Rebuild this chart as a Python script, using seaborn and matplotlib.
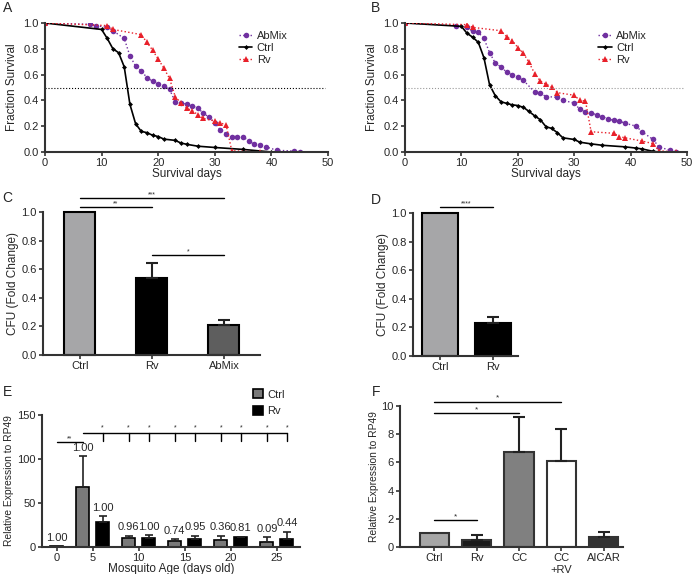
import matplotlib
matplotlib.use("Agg")
import matplotlib.pyplot as plt
import seaborn as sns
import pandas as pd
import numpy as np

# ---- survival data (panel A) ----
a_ctrl_days = [0, 10, 11, 12, 13, 14, 15, 16, 17, 18, 19, 20, 21, 23, 24, 25, 27, 30, 35, 40]
a_ctrl_frac = [1.0, 0.95, 0.88, 0.80, 0.77, 0.66, 0.37, 0.22, 0.16, 0.15, 0.13, 0.12, 0.10,
               0.09, 0.07, 0.06, 0.045, 0.035, 0.02, 0.0]
a_abmix_days = [0, 8, 9, 11, 12, 14, 15, 16, 17, 18, 19, 20, 21, 22, 23, 24, 25, 26, 27, 28,
                29, 30, 31, 32, 33, 34, 35, 36, 37, 38, 39, 41, 44, 45]
a_abmix_frac = [1.0, 0.99, 0.98, 0.966, 0.94, 0.88, 0.745, 0.667, 0.63, 0.577, 0.548, 0.527,
                0.51, 0.486, 0.39, 0.38, 0.37, 0.356, 0.34, 0.30, 0.27, 0.226, 0.17, 0.14,
                0.12, 0.12, 0.117, 0.086, 0.06, 0.057, 0.04, 0.013, 0.008, 0.0]
a_rv_days = [0, 11, 12, 17, 18, 19, 20, 21, 22, 23, 24, 25, 26, 27, 28, 30, 31, 32, 33, 38]
a_rv_frac = [1.0, 0.98, 0.95, 0.91, 0.85, 0.79, 0.72, 0.65, 0.57, 0.43, 0.38, 0.34, 0.32,
             0.29, 0.26, 0.24, 0.225, 0.21, 0.01, 0.0]

# ---- survival data (panel B) ----
b_ctrl_days = [0, 10, 11, 12, 13, 14, 15, 16, 17, 18, 19, 20, 21, 22, 23, 24, 25, 26, 27, 28,
               30, 31, 33, 35, 39, 41, 42, 44, 45]
b_ctrl_frac = [1.0, 0.974, 0.92, 0.89, 0.85, 0.73, 0.52, 0.437, 0.39, 0.377, 0.366, 0.36,
               0.346, 0.314, 0.28, 0.25, 0.196, 0.183, 0.15, 0.11, 0.097, 0.076, 0.063,
               0.052, 0.04, 0.03, 0.024, 0.005, 0.0]
b_abmix_days = [0, 9, 11, 12, 13, 14, 15, 16, 17, 18, 19, 20, 21, 23, 24, 25, 27, 28, 30, 31,
                32, 33, 34, 35, 36, 37, 38, 39, 41, 42, 44, 45, 47, 48]
b_abmix_frac = [1.0, 0.98, 0.966, 0.935, 0.927, 0.88, 0.77, 0.69, 0.66, 0.62, 0.60, 0.58,
                0.555, 0.465, 0.455, 0.43, 0.424, 0.40, 0.38, 0.33, 0.31, 0.30, 0.29, 0.275,
                0.255, 0.246, 0.24, 0.223, 0.20, 0.157, 0.097, 0.04, 0.013, 0.0]
b_rv_days = [0, 11, 12, 17, 18, 19, 20, 21, 22, 23, 24, 25, 26, 27, 30, 31, 32, 33, 37, 38,
             39, 42, 44, 45, 48]
b_rv_frac = [1.0, 0.987, 0.966, 0.94, 0.895, 0.864, 0.81, 0.764, 0.694, 0.607, 0.55, 0.525,
             0.506, 0.46, 0.44, 0.40, 0.395, 0.157, 0.145, 0.12, 0.11, 0.085, 0.065, 0.01, 0.0]

# ---- CFU (panels C, D) ----
c_groups = ["Ctrl", "Rv", "AbMix"]
c_values = [1.0, 0.535, 0.21]
c_err_top = [None, 0.645, 0.245]
d_groups = ["Ctrl", "Rv"]
d_values = [1.0, 0.23]
d_err_top = [None, 0.27]

# ---- expression by age (panel E) ----
e_days = ["0", "5", "10", "15", "20", "25"]
e_ctrl = [None, 67.8, 9.8, 6.8, 8.0, 6.0]
e_ctrl_err = [None, 103, 12.9, 8.7, 12.9, 11.0]
e_ctrl_lbl = ["", "1.00", "0.96", "0.74", "0.36", "0.09"]
e_rv = [1.0, 28.0, 10.6, 9.0, 11.0, 9.0]
e_rv_err = [None, 35.0, 13.6, 12.9, 11.7, 17.4]
e_rv_lbl = ["1.00", "1.00", "1.00", "0.95", "0.81", "0.44"]

# ---- expression by treatment (panel F) ----
f_groups = ["Ctrl", "Rv", "CC", "CC\n+RV", "AICAR"]
f_values = [1.0, 0.5, 6.76, 6.12, 0.73]
f_err_top = [None, 0.85, 9.24, 8.37, 1.09]

PURPLE = "#7030a0"
RED = "#e8202a"

sns.set_theme(style="ticks")
plt.rcParams["font.family"] = ["Liberation Sans Narrow", "Liberation Sans", "DejaVu Sans"]
plt.rcParams["axes.edgecolor"] = "#333333"
plt.rcParams["axes.linewidth"] = 1.5


def style_axes(ax):
    sns.despine(ax=ax)
    ax.tick_params(labelsize=8, width=1.2, length=3, color="#333333", pad=1.5)


def sig(ax, x1, x2, y, text, fs=5):
    ax.plot([x1, x2], [y, y], color="black", lw=1, clip_on=False)
    ax.text((x1 + x2) / 2, y, text, ha="center", va="bottom", fontsize=fs, clip_on=False)


def upper_err(ax, x, top, val, lw=1.5, cap=4):
    ax.errorbar([x], [val], yerr=[[0], [top - val]], fmt="none", ecolor="#222222",
                elinewidth=lw, capsize=cap, capthick=lw, zorder=1)


def survival(ax, curves, ref_color):
    for name, days, frac in curves:
        if name == "Ctrl":
            kw = dict(color="black", marker="D", markersize=2.5, linestyle="-", linewidth=1.2)
        elif name == "AbMix":
            kw = dict(color=PURPLE, marker="o", markersize=4, linestyle=":", linewidth=1)
        else:
            kw = dict(color=RED, marker="^", markersize=4, linestyle=":", linewidth=1)
        sns.lineplot(x=days, y=frac, ax=ax, label=name, markeredgewidth=0, **kw)
    ax.axhline(0.5, xmin=0, xmax=0.99, color=ref_color, ls=":", lw=0.8)
    ax.set_xlim(0, 50)
    ax.set_ylim(0, 1.0)
    ax.set_xticks(range(0, 51, 10))
    ax.set_yticks(np.arange(0, 1.01, 0.2))
    ax.set_yticklabels([f"{v:.1f}" for v in np.arange(0, 1.01, 0.2)])
    ax.set_xlabel("Survival days", fontsize=8.5, labelpad=0)
    ax.set_ylabel("Fraction Survival", fontsize=8.5, labelpad=4)
    ax.legend(loc="upper left", bbox_to_anchor=(0.67, 0.97), frameon=False, fontsize=8,
              handlelength=1.2, handletextpad=0.4, labelspacing=0.15, borderaxespad=0)
    style_axes(ax)


def simple_bars(ax, groups, values, tops, colors, width, edge="black"):
    sns.barplot(x=groups, y=values, hue=groups, order=groups, hue_order=groups,
                palette=colors, saturation=1, edgecolor=edge, linewidth=1.5, width=width,
                ax=ax, legend=False, errorbar=None)
    centers = []
    for bar in ax.patches:
        centers.append(bar.get_x() + bar.get_width() / 2)
    centers = sorted(centers)
    for x, v, t in zip(centers, values, tops):
        if t is not None:
            upper_err(ax, x, t, v)
    return centers


fig = plt.figure(figsize=(6.94, 5.74), dpi=100)
W, H = 694, 574


def add_ax(x0, x1, ytop, ybot):
    return fig.add_axes([x0 / W, 1 - ybot / H, (x1 - x0) / W, (ybot - ytop) / H])


# A
axA = add_ax(45, 328, 23, 152)
survival(axA, [("AbMix", a_abmix_days, a_abmix_frac), ("Ctrl", a_ctrl_days, a_ctrl_frac),
               ("Rv", a_rv_days, a_rv_frac)], "black")
# B
axB = add_ax(405, 687, 23, 152)
survival(axB, [("AbMix", b_abmix_days, b_abmix_frac), ("Ctrl", b_ctrl_days, b_ctrl_frac),
               ("Rv", b_rv_days, b_rv_frac)], "#999999")

# C
axC = add_ax(43, 260, 212, 355)
cx = simple_bars(axC, c_groups, c_values, c_err_top, ["#a6a6a8", "black", "#5e5e5e"], 0.43)
axC.set_xlim(-0.51, 2.5)
axC.set_ylim(0, 1.0)
axC.set_yticks(np.arange(0, 1.01, 0.2))
axC.set_yticklabels([f"{v:.1f}" for v in np.arange(0, 1.01, 0.2)])
axC.set_ylabel("CFU (Fold Change)", fontsize=8.5, labelpad=2)
style_axes(axC)
for p in axC.patches:
    p.set_clip_on(False)
sig(axC, cx[0], cx[2], 1.098, "***")
sig(axC, cx[0], cx[1], 1.035, "**")
sig(axC, cx[1], cx[2], 0.70, "*")

# D
axD = add_ax(413, 518, 213, 356)
dx = simple_bars(axD, d_groups, d_values, d_err_top, ["#a6a6a8", "black"], 0.68)
axD.set_xlim(-0.51, 1.47)
axD.set_ylim(0, 1.0)
axD.set_yticks(np.arange(0, 1.01, 0.2))
axD.set_yticklabels([f"{v:.1f}" for v in np.arange(0, 1.01, 0.2)])
axD.set_ylabel("CFU (Fold Change)", fontsize=8.5, labelpad=2)
style_axes(axD)
for p in axD.patches:
    p.set_clip_on(False)
sig(axD, dx[0], dx[1], 1.04, "****")

# E
rows = []
for i, d in enumerate(e_days):
    if e_ctrl[i] is not None:
        rows.append({"day": d, "group": "Ctrl", "value": e_ctrl[i]})
    rows.append({"day": d, "group": "Rv", "value": e_rv[i]})
e_df = pd.DataFrame(rows)
axE = add_ax(42, 300, 415, 547)
sns.barplot(data=e_df, x="day", y="value", hue="group", order=e_days, hue_order=["Ctrl", "Rv"],
            palette={"Ctrl": "#7a7a7a", "Rv": "black"}, saturation=1, edgecolor="black",
            linewidth=1.2, width=0.87, gap=0.35, ax=axE, errorbar=None)
pos = {}
info = {"Ctrl": (e_ctrl, e_ctrl_err, e_ctrl_lbl), "Rv": (e_rv, e_rv_err, e_rv_lbl)}
for grp, cont in zip(["Ctrl", "Rv"], axE.containers):
    vals, errs, lbls = info[grp]
    for bar in cont:
        c = bar.get_x() + bar.get_width() / 2
        i = int(round(c))
        pos[(grp, i)] = c
        top = vals[i]
        if errs[i] is not None:
            upper_err(axE, c, errs[i], vals[i], lw=1.2, cap=3)
            top = errs[i]
        axE.text(c, top + 4, lbls[i], ha="center", va="bottom", fontsize=8)
axE.set_xlim(-0.1, 5.5)
axE.set_ylim(0, 150)
axE.set_yticks([0, 50, 100, 150])
axE.set_xticks([pos[("Rv", 0)]] + list(range(1, 6)))
axE.set_xticklabels(e_days)
axE.set_xlabel("Mosquito Age (days old)", fontsize=8.5, labelpad=0)
axE.set_ylabel("Relative Expression to RP49", fontsize=7.4, labelpad=2)
style_axes(axE)
sns.move_legend(axE, "upper left", bbox_to_anchor=(0.8, 1.23), frameon=False, title=None,
                fontsize=8, handlelength=0.9, handleheight=0.9, handletextpad=0.4,
                labelspacing=0.55, borderaxespad=0)
sig(axE, pos[("Rv", 0)], pos[("Ctrl", 1)], 119, "**")
axE.plot([pos[("Ctrl", 1)], pos[("Rv", 5)]], [130, 130], color="black", lw=1, clip_on=False)
for key, c in pos.items():
    if key in [("Rv", 0), ("Ctrl", 1)]:
        continue
    axE.plot([c, c], [120, 130], color="black", lw=1, clip_on=False)
    axE.text(c, 131, "*", ha="center", va="bottom", fontsize=5, clip_on=False)

# F
axF = add_ax(400, 623, 406, 547)
fx = simple_bars(axF, f_groups, f_values, f_err_top,
                 ["#a6a6a6", "#1a1a1a", "#808080", "white", "#333333"], 0.69, edge="#333333")
axF.set_xlim(-0.815, 4.46)
axF.set_ylim(0, 10)
axF.set_yticks(range(0, 11, 2))
axF.set_ylabel("Relative Expression to RP49", fontsize=7.4, labelpad=2)
style_axes(axF)
sig(axF, fx[0], fx[3], 10.3, "*", fs=6)
sig(axF, fx[0], fx[2], 9.5, "*", fs=6)
sig(axF, fx[0], fx[1], 1.9, "*", fs=6)

# panel letters
for letter, px, py in [("A", 8, 8), ("B", 376, 8), ("C", 7, 198), ("D", 376, 200),
                       ("E", 7, 392), ("F", 376, 392)]:
    fig.text(px / W, 1 - py / H, letter, ha="center", va="center", fontsize=10)

fig.savefig("out.png", dpi=100)
